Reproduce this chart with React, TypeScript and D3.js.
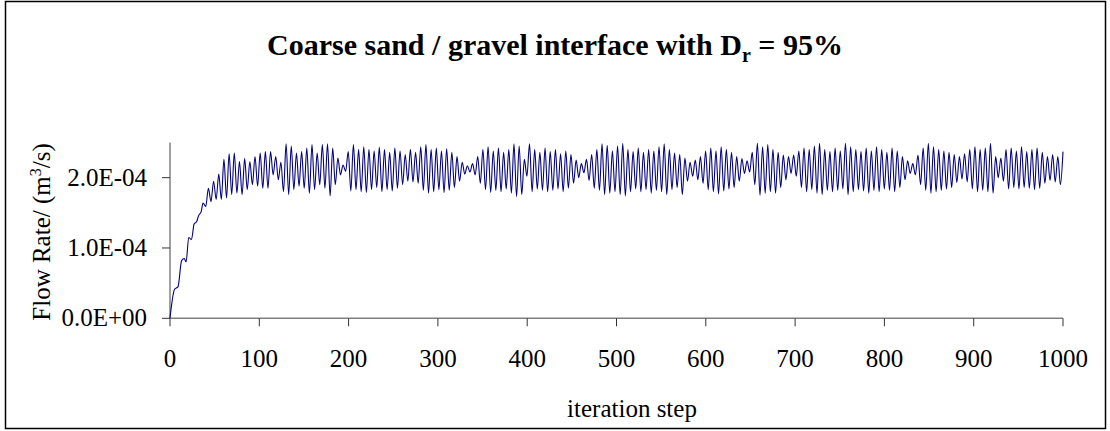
import React from "react";
import * as d3 from "d3";

// Flow rate through a coarse sand / gravel interface, in units of 1e-4 m3/s.
// Start-up ramp.
const rampSteps = [0, 5, 9, 13, 16, 18, 21, 24, 27, 30, 32, 35, 37, 40];
const rampValues = [0, 0.41, 0.45, 0.82, 0.85, 0.8, 1.15, 1.12, 1.34, 1.38, 1.46, 1.52, 1.64, 1.59];

// Oscillating part: one peak and the trough after it per cycle,
// first peak at step 43, extrema every 2.9 steps.
const OSC_START = 43;
const HALF_CYCLE = 2.9;

const peaks = [
  1.85, 1.95, 2.05, 2.26, 2.34, 2.35, 2.23, 2.27, 2.23, 2.3,
  2.35, 2.37, 2.37, 2.3, 2.22, 2.48, 2.45, 2.35, 2.37, 2.42,
  2.47, 2.35, 2.47, 2.48, 2.42, 2.28, 2.18, 2.37, 2.47, 2.4,
  2.44, 2.4, 2.38, 2.43, 2.4, 2.36, 2.42, 2.38, 2.33, 2.4,
  2.36, 2.44, 2.47, 2.4, 2.42, 2.38, 2.41, 2.36, 2.3, 2.22,
  2.17, 2.2, 2.3, 2.4, 2.44, 2.38, 2.42, 2.36, 2.4, 2.48,
  2.45, 2.26, 2.48, 2.4, 2.36, 2.42, 2.37, 2.4, 2.34, 2.38,
  2.33, 2.25, 2.2, 2.26, 2.33, 2.4, 2.48, 2.46, 2.38, 2.45,
  2.49, 2.4, 2.37, 2.42, 2.36, 2.4, 2.38, 2.44, 2.48, 2.4,
  2.35, 2.33, 2.28, 2.22, 2.25, 2.3, 2.38, 2.42, 2.38, 2.44,
  2.4, 2.36, 2.3, 2.27, 2.24, 2.36, 2.49, 2.44, 2.47, 2.4,
  2.36, 2.32, 2.3, 2.32, 2.38, 2.42, 2.4, 2.45, 2.49, 2.4,
  2.37, 2.42, 2.38, 2.49, 2.44, 2.4, 2.37, 2.42, 2.38, 2.44,
  2.4, 2.36, 2.42, 2.38, 2.3, 2.24, 2.2, 2.32, 2.42, 2.49,
  2.44, 2.4, 2.38, 2.36, 2.33, 2.3, 2.34, 2.4, 2.44, 2.4,
  2.42, 2.49, 2.3, 2.28, 2.4, 2.42, 2.38, 2.44, 2.37, 2.4,
  2.42, 2.36, 2.3, 2.33, 2.3, 2.37,
];

const troughs = [
  1.66, 1.69, 1.69, 1.71, 1.76, 1.78, 1.76, 1.83, 1.9, 1.88,
  1.85, 1.85, 2.04, 1.97, 1.8, 1.76, 1.83, 1.88, 1.85, 1.78,
  1.83, 1.9, 1.85, 1.74, 1.9, 2.04, 2.09, 1.81, 1.83, 1.8,
  1.79, 1.83, 1.86, 1.8, 1.83, 1.81, 1.85, 1.9, 1.95, 1.94,
  1.92, 1.82, 1.78, 1.8, 1.83, 1.79, 1.82, 1.86, 1.95, 2.05,
  2.08, 2.04, 1.92, 1.83, 1.79, 1.82, 1.8, 1.84, 1.78, 1.73,
  1.76, 2.02, 1.8, 1.84, 1.82, 1.8, 1.82, 1.84, 1.8, 1.85,
  1.92, 2.0, 2.07, 1.96, 1.85, 1.82, 1.76, 1.78, 1.8, 1.76,
  1.74, 1.8, 1.84, 1.8, 1.83, 1.78, 1.82, 1.8, 1.76, 1.83,
  1.86, 1.76, 1.95, 2.02, 1.97, 1.92, 1.83, 1.8, 1.77, 1.81,
  1.84, 1.86, 1.95, 2.06, 2.08, 1.9, 1.75, 1.78, 1.8, 1.78,
  1.86, 1.97, 2.06, 2.02, 1.86, 1.8, 1.83, 1.78, 1.76, 1.82,
  1.8, 1.82, 1.84, 1.76, 1.8, 1.83, 1.81, 1.78, 1.82, 1.8,
  1.84, 1.82, 1.8, 1.86, 1.97, 2.06, 2.04, 1.9, 1.82, 1.78,
  1.8, 1.82, 1.84, 1.86, 1.93, 1.98, 1.94, 1.84, 1.8, 1.82,
  1.8, 1.78, 2.0, 1.95, 1.84, 1.86, 1.84, 1.86, 1.85, 1.83,
  1.85, 1.92, 1.96, 1.94, 1.9,
];

const xTicks = [0, 100, 200, 300, 400, 500, 600, 700, 800, 900, 1000];
const yTicks = [0, 1e-4, 2e-4];

const W = 1110;
const H = 431;
const M = { left: 170, right: 1063, top: 142.5, bottom: 318.3 };
const LINE_COLOR = "#000080";
const AXIS_COLOR = "#808080";
const FONT = "'Liberation Serif', 'Times New Roman', serif";

function sci(v: number): string {
  if (v === 0) return "0.0E+00";
  const exp = Math.floor(Math.log10(Math.abs(v)));
  const mant = v / Math.pow(10, exp);
  const sign = exp < 0 ? "-" : "+";
  return `${mant.toFixed(1)}E${sign}${String(Math.abs(exp)).padStart(2, "0")}`;
}

type Pt = [number, number];

const points: Pt[] = [];
rampSteps.forEach((s, i) => points.push([s, rampValues[i] * 1e-4]));
peaks.forEach((p, i) => {
  points.push([OSC_START + 2 * i * HALF_CYCLE, p * 1e-4]);
  if (i < troughs.length) points.push([OSC_START + (2 * i + 1) * HALF_CYCLE, troughs[i] * 1e-4]);
});

const App: React.FC = () => {
  const x = d3.scaleLinear().domain([0, 1000]).range([M.left, M.right]);
  const y = d3.scaleLinear().domain([0, 2.5e-4]).range([M.bottom, M.top]);

  const line = d3
    .line<Pt>()
    .x((d) => x(d[0]))
    .y((d) => y(d[1]))
    .curve(d3.curveMonotoneX);

  return (
    <svg
      width={W}
      height={H}
      style={{ position: "absolute", left: 0, top: 0, background: "#fff" }}
      fontFamily={FONT}
    >
      <rect x={5.5} y={1.5} width={1100} height={427} fill="#fff" stroke="#000" strokeWidth={1.5} />

      {/* Title */}
      <text x={555} y={55} textAnchor="middle" fontSize={30} fontWeight="bold" fill="#000">
        Coarse sand / gravel interface with D
        <tspan dy={7} fontSize={20}>r</tspan>
        <tspan dy={-7}> = 95%</tspan>
      </text>

      {/* Axes */}
      <line x1={M.left} x2={M.left} y1={M.top} y2={M.bottom} stroke={AXIS_COLOR} strokeWidth={1.5} />
      <line x1={M.left} x2={M.right} y1={M.bottom} y2={M.bottom} stroke={AXIS_COLOR} strokeWidth={1.5} />

      {yTicks.map((t) => (
        <g key={t}>
          <line x1={M.left - 8} x2={M.left} y1={y(t)} y2={y(t)} stroke="#333" strokeWidth={1} />
          <text x={M.left - 23} y={y(t) + 8} textAnchor="end" fontSize={25} fill="#000">
            {sci(t)}
          </text>
        </g>
      ))}

      {xTicks.map((t) => (
        <g key={t}>
          <line x1={x(t)} x2={x(t)} y1={M.bottom} y2={M.bottom + 8} stroke="#333" strokeWidth={1} />
          <text x={x(t)} y={367} textAnchor="middle" fontSize={25} fill="#000">
            {t}
          </text>
        </g>
      ))}

      {/* Axis titles */}
      <text x={632} y={417} textAnchor="middle" fontSize={25} fill="#000">
        iteration step
      </text>
      <text transform="translate(50,232) rotate(-90)" textAnchor="middle" fontSize={25} fill="#000">
        Flow Rate/ (m<tspan dy={-9} fontSize={16}>3</tspan>
        <tspan dy={9}>/s)</tspan>
      </text>

      {/* Series */}
      <path d={line(points) ?? ""} fill="none" stroke={LINE_COLOR} strokeWidth={1.1} strokeLinejoin="round" />
    </svg>
  );
};

export default App;
